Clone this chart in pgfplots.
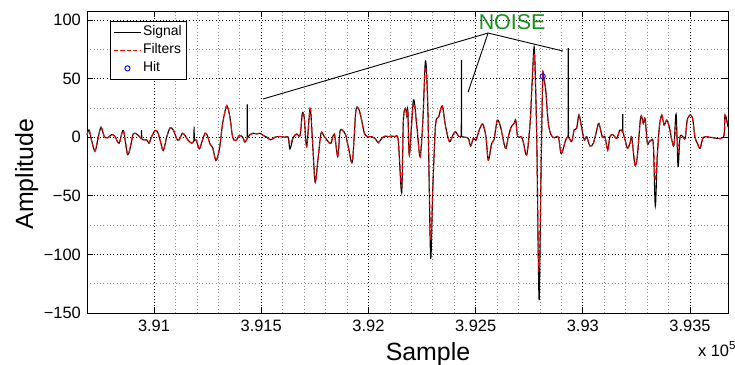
\documentclass[border=0pt]{standalone}
\usepackage{fontspec}
\setmainfont{Liberation Sans}
\usepackage{pgfplots}
\pgfplotsset{compat=1.18}
\definecolor{noisegreen}{rgb}{0.1,0.56,0.1}
\begin{document}
\begin{tikzpicture}
\begin{axis}[
  scale only axis,
  width=641bp, height=302bp,
  xmin=390687.5, xmax=393677,
  ymin=-150, ymax=107.7,
  scaled x ticks=false,
  axis line style={line width=0.9bp},
  xtick={391000,391500,392000,392500,393000,393500},
  xticklabels={3.91,3.915,3.92,3.925,3.93,3.935},
  ytick={-150,-100,-50,0,50,100},
  yticklabels={−150,−100,−50,0,50,100},
  minor x tick num=4,
  minor y tick num=1,
  grid=both,
  major grid style={black, line width=0.8bp, dash pattern=on 0.9bp off 2.4bp},
  minor grid style={black!45, line width=0.6bp, dash pattern=on 0.9bp off 2.4bp},
  tick align=inside,
  major tick length=6bp,
  minor tick length=0bp,
  tick style={black, line width=0.9bp},
  xticklabel style={font=\fontsize{16.5}{18}\selectfont, inner sep=0pt, anchor=north, yshift=-7bp},
  yticklabel style={font=\fontsize{16.5}{18}\selectfont, inner sep=0pt, anchor=east, xshift=-6bp},
  xlabel={Sample},
  ylabel={Amplitude},
  xlabel style={at={(axis description cs:0.532,0)}, anchor=base, yshift=-47bp, font=\fontsize{25}{28}\selectfont, inner sep=0pt},
  ylabel style={at={(axis description cs:-0.0842,0.46)}, anchor=base, rotate=0, font=\fontsize{25}{28}\selectfont, inner sep=0pt},
  legend image code/.code={\draw[mark repeat=2,mark phase=2,#1] plot coordinates {(0bp,0bp) (13.5bp,0bp) (27bp,0bp)};},
  legend style={at={(axis description cs:0.0359,0.967)}, anchor=north west, draw=black, line width=0.8bp,
    font=\fontsize{14}{15}\selectfont, inner xsep=3bp, inner ysep=2bp, row sep=0bp,
    nodes={inner sep=1.5bp, text height=11bp, text depth=4bp}},
  legend cell align=left,
  clip=false,
]
\addplot[black, line width=1.1bp, smooth, tension=0.5] coordinates {
(390688,2) (390697,6.2) (390709,-2.8) (390725,-11.9) (390740,0) (390753,8.5) (390768,0.6) (390784,-0.6)
(390803,2.3) (390818,0.6) (390837,-5.1) (390857,5.7) (390877,-14.8) (390893,-5.7) (390903,2.8) (390919,2.8)
(390935,0) (390950,-2.3) (390966,-2.3) (390977,-5.1) (390989,0.6)
(391005,5.7) (391017,4.3) (391029,-2.8) (391043,-11.4) (391059,0) (391075,8) (391090,6.2) (391106,-1.4)
(391117,-2.3) (391132,3.4) (391145,1.4) (391160,-2.8) (391176,-5.1) (391187,-3)
(391196,-2.3) (391211,-10) (391223,-4.3) (391238,3.4) (391249,1.4) (391261,-5.7) (391274,-9) (391289,-19.9)
(391305,-10) (391320,11.4) (391339,27) (391354,17) (391367,0) (391382,-2.8) (391398,1.4) (391414,0)
(391424,-4.3) (391435,-1) (391448,2.3) (391463,3.4) (391479,2.8) (391494,3.4)
(391510,1.4) (391526,0) (391544,-2.3) (391564,0) (391588,0.6) (391611,0) (391626,0) (391634,-10)
(391650,0) (391666,2.8) (391681,1.4) (391692,20.4) (391701,16) (391712,-8) (391728,24.5) (391738,0.5)
(391751,-38) (391763,-22) (391779,3.3) (391794,0.5) (391813,-3.8) (391825,-5.2) (391841,2.7) (391857,-16.6)
(391867,4.7) (391878,6.1) (391894,1.9) (391906,-8) (391925,-21) (391941,21.8) (391953,24.6) (391965,17.5)
(391981,3.3) (391997,0.5) (392015,0.5) (392031,-1) (392046,-4.7) (392062,-1) (392077,1) (392093,0.5)
(392109,1) (392124,0.5) (392139,-2.4) (392155,-47.5) (392163,14.6) (392173,24.6) (392179,18) (392184,23)
(392191,-15.2) (392210,31.7) (392226,9) (392241,-16.6) (392254,14.6) (392266,65) (392277,26) (392290,-102)
(392300,-45) (392313,10.4) (392328,17.5) (392344,26.6) (392360,9) (392378,-3.8) (392394,1.9) (392406,4.7)
(392422,0.5) (392434,0.5) (392447,0) (392466,-1) (392477,-7.5) (392489,-1)
(392502,-2.4) (392517,6.1) (392533,11.3) (392548,0.5) (392559,-19.5) (392575,-5.2) (392586,-2) (392601,14.6)
(392617,8.4) (392632,-5.2) (392642,-9.5) (392652,0) (392665,8.4) (392680,11.8) (392687,14.6) (392696,0.5)
(392712,0.5) (392722,-3.8) (392738,-15.2) (392754,11.8) (392764,48.8) (392774,75.8) (392785,0) (392792,-100)
(392797,-137) (392805,-31) (392813,51) (392818,50) (392827,40) (392839,11.8) (392852,1.9) (392867,-0.5)
(392886,0) (392898,-13.8) (392909,-9.5) (392920,-2.4) (392932,0.5) (392948,-3.8)
(392959,6.1) (392971,7.5) (392982,18.9) (392995,7.5) (393007,-2.4) (393018,0.5) (393033,-7.5) (393049,-5.2)
(393065,6.1) (393075,11.8) (393091,0) (393103,0.5) (393116,-10.9) (393127,1) (393142,1.9) (393158,-1)
(393173,6.1) (393186,4.5) (393197,-2.4) (393208,-9.5) (393220,-5.2) (393228,0)
(393243,-23.7) (393254,-16.6) (393270,17.5) (393282,11.8) (393290,16.1) (393301,-5.2) (393310,-3.8) (393321,-2.4)
(393329,-6.7) (393338,-58.7) (393347,-16.6) (393357,9) (393368,18.9) (393379,10.4) (393391,14.6) (393403,9)
(393415,-2.4) (393425,-6.7) (393435,19.8) (393444,-25) (393453,0) (393466,0.5) (393477,-1) (393487,14.6)
(393500,18.9) (393512,16.1) (393523,0) (393534,-5.2) (393547,-9.5) (393562,0) (393593,0) (393655,0)
(393663,18.9) (393677,9)
};
\addlegendentry{Signal}
\addplot[black, line width=1.1bp, forget plot] coordinates {(390941,-0.3) (390942,6) (390943,-0.6)};
\addplot[black, line width=1.1bp, forget plot] coordinates {(391186,-3) (391187,9) (391188,-3)};
\addplot[black, line width=1.1bp, forget plot] coordinates {(391434,-1) (391435,28) (391436,-1)};
\addplot[black, line width=1.1bp, forget plot] coordinates {(392433,0.5) (392434,66) (392435,0.5)};
\addplot[black, line width=1.1bp, forget plot] coordinates {(392931,0.5) (392932,76) (392933,0.5)};
\addplot[black, line width=1.1bp, forget plot] coordinates {(393185,4.5) (393186,19.8) (393187,4.5)};
\addplot[red, line width=1.1bp, dash pattern=on 4bp off 2.5bp, smooth, tension=0.5] coordinates {
(390688,2) (390697,6.2) (390709,-2.8) (390725,-11.9) (390740,0) (390753,8.5) (390768,0.6) (390784,-0.6)
(390803,2.3) (390818,0.6) (390837,-5.1) (390857,5.7) (390877,-14.8) (390893,-5.7) (390903,2.8) (390919,2.8)
(390935,0) (390950,-2.3) (390966,-2.3) (390977,-5.1) (390989,0.6)
(391005,5.7) (391017,4.3) (391029,-2.8) (391043,-11.4) (391059,0) (391075,8) (391090,6.2) (391106,-1.4)
(391117,-2.3) (391132,3.4) (391145,1.4) (391160,-2.8) (391176,-5.1) (391187,-3)
(391196,-2.3) (391211,-10) (391223,-4.3) (391238,3.4) (391249,1.4) (391261,-5.7) (391274,-9) (391289,-19.9)
(391305,-10) (391320,11.4) (391339,27) (391354,17) (391367,0) (391382,-2.8) (391398,1.4) (391414,0)
(391424,-4.3) (391435,-1) (391448,2.3) (391463,3.4) (391479,2.8) (391494,3.4)
(391510,1.4) (391526,0) (391544,-2.3) (391564,0) (391588,0.6) (391611,0) (391626,0) (391634,-6)
(391650,0) (391666,2.8) (391681,1.4) (391692,20.4) (391701,16) (391712,-8) (391728,24.5) (391738,0.5)
(391751,-38) (391763,-22) (391779,3.3) (391794,0.5) (391813,-3.8) (391825,-5.2) (391841,2.7) (391857,-16.6)
(391867,4.7) (391878,6.1) (391894,1.9) (391906,-8) (391925,-21) (391941,21.8) (391953,24.6) (391965,17.5)
(391981,3.3) (391997,0.5) (392015,0.5) (392031,-1) (392046,-4.7) (392062,-1) (392077,1) (392093,0.5)
(392109,1) (392124,0.5) (392139,-2.4) (392155,-42) (392163,14.6) (392173,24.6) (392179,18) (392184,22)
(392191,-15.2) (392210,29) (392226,9) (392241,-16.6) (392254,14.6) (392266,60) (392277,26) (392290,-85)
(392300,-45) (392313,10.4) (392328,17.5) (392344,26.6) (392360,9) (392378,-3.8) (392394,1.9) (392406,4.7)
(392422,0.5) (392434,0.5) (392447,0) (392466,-1) (392477,-7.5) (392489,-1)
(392502,-2.4) (392517,6.1) (392533,11.3) (392548,0.5) (392559,-19.5) (392575,-5.2) (392586,-2) (392601,14.6)
(392617,8.4) (392632,-5.2) (392642,-9.5) (392652,0) (392665,8.4) (392680,11.8) (392687,14.6) (392696,0.5)
(392712,0.5) (392722,-3.8) (392738,-15.2) (392754,11.8) (392764,48.8) (392774,70) (392785,0) (392792,-98)
(392797,-110) (392805,-31) (392813,51) (392818,50) (392827,40) (392839,11.8) (392852,1.9) (392867,-0.5)
(392886,0) (392898,-13.8) (392909,-9.5) (392920,-2.4) (392932,0.5) (392948,-3.8)
(392959,6.1) (392971,7.5) (392982,18.9) (392995,7.5) (393007,-2.4) (393018,0.5) (393033,-7.5) (393049,-5.2)
(393065,6.1) (393075,11.8) (393091,0) (393103,0.5) (393116,-10.9) (393127,1) (393142,1.9) (393158,-1)
(393173,6.1) (393186,4.5) (393197,-2.4) (393208,-9.5) (393220,-5.2) (393228,0)
(393243,-23.7) (393254,-16.6) (393270,17.5) (393282,11.8) (393290,16.1) (393301,-5.2) (393310,-3.8) (393321,-2.4)
(393329,-6.7) (393338,-37) (393347,-16.6) (393357,9) (393368,18.9) (393379,10.4) (393391,14.6) (393403,9)
(393415,-2.4) (393425,-6.7) (393435,9) (393444,-12) (393453,0) (393466,0.5) (393477,-1) (393487,14.6)
(393500,18.9) (393512,16.1) (393523,0) (393534,-5.2) (393547,-9.5) (393562,0) (393593,0) (393655,0)
(393663,18.9) (393677,9)
};
\addlegendentry{Filters}
\addplot[only marks, blue, mark=o, mark size=2.6bp, line width=0.9bp] coordinates {(392813,52)};
\addlegendentry{Hit}
\draw[black, line width=0.9bp] (axis cs:391508,32.6) -- (axis cs:392558,88.9) -- (axis cs:392908,73.5);
\draw[black, line width=0.9bp] (axis cs:392558,88.9) -- (axis cs:392465,38.6);
\node[anchor=base, inner sep=0pt, text=noisegreen, font=\fontsize{21.5}{24}\selectfont] at (axis cs:392670,92.1) {NOISE};
\node[anchor=base west, inner sep=0pt, font=\fontsize{16.5}{18}\selectfont] at (axis description cs:0.953,-0.1424) {x 10\textsuperscript{5}};
\end{axis}
\pgfresetboundingbox
\path[use as bounding box] ([xshift=-87bp,yshift=-52bp]current axis.south west) rectangle ([xshift=7bp,yshift=11bp]current axis.north east);
\end{tikzpicture}
\end{document}
